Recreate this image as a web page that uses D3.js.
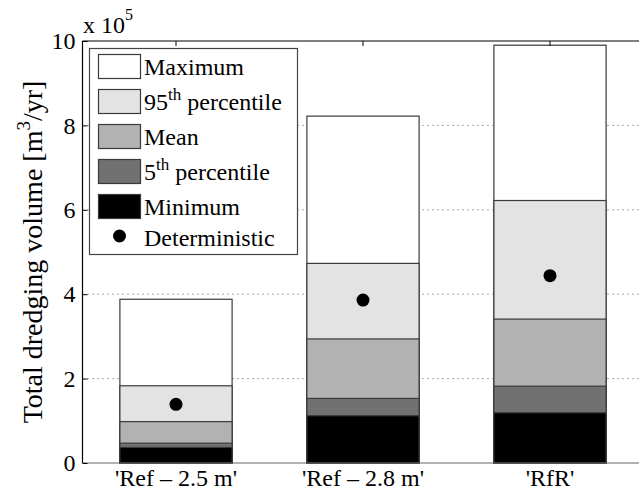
<!DOCTYPE html>
<html>
<head>
<meta charset="utf-8">
<script src="https://cdn.jsdelivr.net/npm/d3@7"></script>
<style>
  body { margin: 0; }
  svg text, svg tspan { font-family: "Liberation Serif", "Times New Roman", Times, serif !important; }
</style>
</head>
<body>
<script>
const width = 639;
const height = 492;

// data (x 10^5 m3/yr)
const scenarios = ["'Ref \u2013 2.5 m'", "'Ref \u2013 2.8 m'", "'RfR'"];
const maximum = [3.88, 8.22, 9.90];
const p95 = [1.83, 4.73, 6.22];
const mean = [0.98, 2.94, 3.41];
const p5 = [0.47, 1.53, 1.82];
const minimum = [0.37, 1.12, 1.19];
const deterministic = [1.39, 3.86, 4.44];
const yTicks = [0, 2, 4, 6, 8, 10];

const layers = [
  { name: "Maximum", values: maximum, fill: "#ffffff" },
  { name: "95", sup: "th", rest: " percentile", values: p95, fill: "#e3e3e3" },
  { name: "Mean", values: mean, fill: "#b2b2b2" },
  { name: "5", sup: "th", rest: " percentile", values: p5, fill: "#717171" },
  { name: "Minimum", values: minimum, fill: "#000000" }
];

const plot = { left: 82.5, right: 643.5, top: 41, bottom: 463 };

const svg = d3.select("body")
  .append("svg")
  .attr("width", width)
  .attr("height", height)
  .attr("font-family", "Liberation Serif");

function txt(sel, size) {
  return sel.append("text")
    .attr("font-family", "Liberation Serif")
    .attr("font-size", size);
}

const x = d3.scaleBand()
  .domain(scenarios)
  .range([plot.left, plot.right])
  .paddingInner(0.4)
  .paddingOuter(0.2);

const y = d3.scaleLinear()
  .domain([0, 10])
  .range([plot.bottom, plot.top]);

// dotted grid
svg.append("g")
  .selectAll("line")
  .data(yTicks.filter(d => d > 0 && d < 10))
  .enter().append("line")
  .attr("x1", plot.left)
  .attr("x2", plot.right)
  .attr("y1", d => y(d))
  .attr("y2", d => y(d))
  .attr("stroke", "#555")
  .attr("stroke-width", 1)
  .attr("stroke-dasharray", "1,4");

// overlapping bars, each drawn from zero
layers.forEach(layer => {
  svg.append("g")
    .selectAll("rect")
    .data(layer.values)
    .enter().append("rect")
    .attr("x", (d, i) => x(scenarios[i]))
    .attr("width", x.bandwidth())
    .attr("y", d => y(d))
    .attr("height", d => y(0) - y(d))
    .attr("fill", layer.fill)
    .attr("stroke", "#3a3a3a")
    .attr("stroke-width", 1.2);
});

// deterministic points
svg.append("g")
  .selectAll("circle")
  .data(deterministic)
  .enter().append("circle")
  .attr("cx", (d, i) => x(scenarios[i]) + x.bandwidth() / 2)
  .attr("cy", d => y(d))
  .attr("r", 6.5)
  .attr("fill", "#000");

// axes lines
const axisG = svg.append("g").attr("stroke", "#000").attr("stroke-width", 1.2);
axisG.append("line").attr("x1", plot.left).attr("x2", plot.right).attr("y1", plot.top).attr("y2", plot.top);
axisG.append("line").attr("x1", plot.left).attr("x2", plot.left).attr("y1", plot.top).attr("y2", plot.bottom);
axisG.append("line").attr("x1", plot.left).attr("x2", plot.right).attr("y1", plot.bottom).attr("y2", plot.bottom).attr("stroke", "#666");

// y axis ticks (inward) and labels
const yAxis = svg.append("g")
  .attr("transform", `translate(${plot.left},0)`)
  .call(d3.axisLeft(y).tickValues(yTicks).tickSizeInner(-5).tickSizeOuter(0).tickPadding(7));
yAxis.select(".domain").remove();
yAxis.attr("font-family", "Liberation Serif").attr("font-size", 24);
yAxis.selectAll("text").attr("fill", "#000");

// top ticks
svg.append("g")
  .selectAll("line")
  .data(scenarios)
  .enter().append("line")
  .attr("x1", d => x(d) + x.bandwidth() / 2)
  .attr("x2", d => x(d) + x.bandwidth() / 2)
  .attr("y1", plot.top)
  .attr("y2", plot.top + 5)
  .attr("stroke", "#000");

// x labels
const xg = svg.append("g");
scenarios.forEach(s => {
  txt(xg, 24)
    .attr("x", x(s) + x.bandwidth() / 2)
    .attr("y", 486)
    .attr("text-anchor", "middle")
    .text(s);
});

// exponent label
const expo = txt(svg, 24).attr("x", 83).attr("y", 33);
expo.append("tspan").text("x 10");
expo.append("tspan").attr("dy", -13).attr("font-size", 16).text("5");

// y label
const yl = txt(svg, 28)
  .attr("transform", "translate(42,252) rotate(-90)")
  .attr("text-anchor", "middle");
yl.append("tspan").text("Total dredging volume [m");
yl.append("tspan").attr("dy", -12).attr("font-size", 19).text("3");
yl.append("tspan").attr("dy", 12).text("/yr]");

// legend
const legend = svg.append("g");
legend.append("rect")
  .attr("x", 89.5).attr("y", 48.5)
  .attr("width", 208).attr("height", 206)
  .attr("fill", "#fff")
  .attr("stroke", "#444")
  .attr("stroke-width", 1.2);

const rowH = 35;
layers.forEach((layer, i) => {
  const top = 54 + i * rowH;
  legend.append("rect")
    .attr("x", 98.5).attr("y", top + 0.5)
    .attr("width", 42).attr("height", 24)
    .attr("fill", layer.fill)
    .attr("stroke", "#3a3a3a")
    .attr("stroke-width", 1.2);
  const t = txt(legend, 24).attr("x", 144).attr("y", top + 21);
  t.append("tspan").text(layer.name);
  if (layer.sup) {
    t.append("tspan").attr("dy", -10).attr("font-size", 17).text(layer.sup);
    t.append("tspan").attr("dy", 10).text(layer.rest);
  }
});
legend.append("circle")
  .attr("cx", 119.5).attr("cy", 236)
  .attr("r", 6.5)
  .attr("fill", "#000");
txt(legend, 24).attr("x", 144).attr("y", 246).text("Deterministic");
</script>
</body>
</html>
